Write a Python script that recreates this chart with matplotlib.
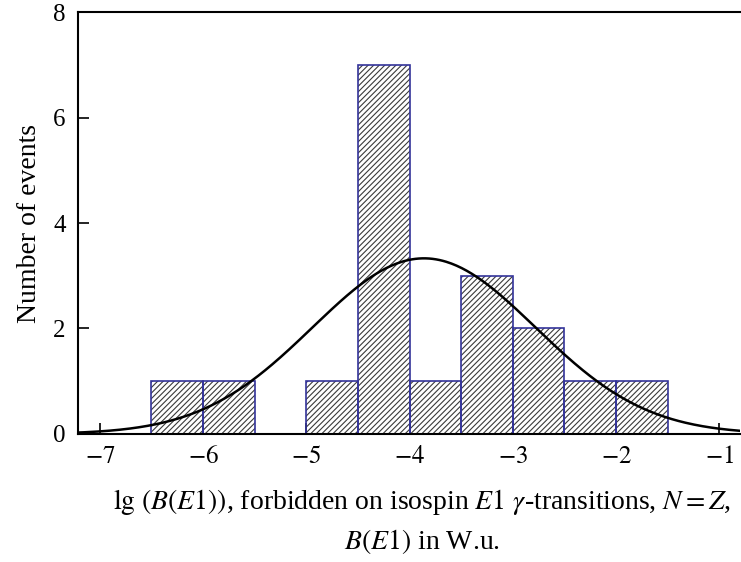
import numpy as np
import matplotlib.pyplot as plt

plt.rcParams['font.family'] = ['Liberation Serif', 'DejaVu Serif']
plt.rcParams['mathtext.fontset'] = 'stix'
plt.rcParams['hatch.linewidth'] = 0.8

# histogram bins (lg B(E1)) and counts
bin_edges = [-6.5, -6.0, -5.5, -5.0, -4.5, -4.0, -3.5, -3.0, -2.5, -2.0, -1.5]
counts = [1, 1, 0, 1, 7, 1, 3, 2, 1, 1]

# gaussian fit
fit_mu = -3.86
fit_sigma = 1.08
fit_amp = 3.33

fig = plt.figure(figsize=(7.41, 5.62), dpi=100)
ax = fig.add_axes([0.1053, 0.2278, 0.8934, 0.7508])

lefts = np.array(bin_edges[:-1])
widths = np.diff(bin_edges)
for l, w, c in zip(lefts, widths, counts):
    if c == 0:
        continue
    ax.bar(l, c, width=w, align='edge', color='white', edgecolor='#3a3a3a',
           hatch='//////', linewidth=0, zorder=1)
    ax.bar(l, c, width=w, align='edge', fill=False, edgecolor='#33339a',
           linewidth=1.2, zorder=2)

xs = np.linspace(-7.3, -0.7, 400)
ax.plot(xs, fit_amp * np.exp(-(xs - fit_mu) ** 2 / (2 * fit_sigma ** 2)),
        color='black', linewidth=1.8, zorder=3)

ax.set_xlim(-7.21, -0.8)
ax.set_ylim(0, 8)
ax.set_xticks([-7, -6, -5, -4, -3, -2, -1])
ax.set_xticklabels(['$-7$', '$-6$', '$-5$', '$-4$', '$-3$', '$-2$', '$-1$'])
ax.set_yticks([0, 2, 4, 6, 8])
ax.tick_params(direction='in', length=8, width=1.2, labelsize=18, pad=9)
ax.spines['right'].set_visible(False)
for s in ['left', 'top', 'bottom']:
    ax.spines[s].set_linewidth(1.5)

ax.set_ylabel('Number of events', fontsize=20, labelpad=8)
fig.text(0.57, 0.107, r'$\lg\,(B(E1))$, forbidden on isospin $E1$ $\gamma$-transitions, $N=Z$,',
         ha='center', va='center', fontsize=20)
fig.text(0.57, 0.036, r'$B(E1)$ in W.u.', ha='center', va='center', fontsize=20)

fig.savefig('out.png', dpi=100)
